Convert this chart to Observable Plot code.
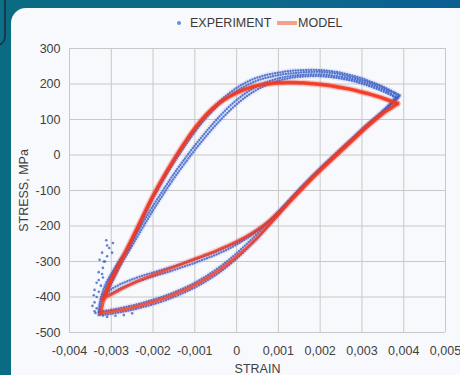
<!DOCTYPE html>
<html>
<head>
<meta charset="utf-8">
<script src="https://cdn.jsdelivr.net/npm/d3@7"></script>
<script src="https://cdn.jsdelivr.net/npm/@observablehq/plot@0.6"></script>
<style>
  html, body { margin: 0; padding: 0; }
  body { width: 460px; height: 375px; overflow: hidden; position: relative;
         background: linear-gradient(to right, #0a6b82 0%, #0b6a88 55%, #0c5f94 100%);
         font-family: "Liberation Sans", Arial, sans-serif; }
  #tab { position: absolute; left: -14px; top: -12px; width: 16px; height: 54px;
         border: 2px solid #17394a; border-radius: 9px; background: #0c7088; }
  #card { position: absolute; left: 11px; top: 8px; width: 470px; height: 385px;
          background: #f8f9fc; border-radius: 15px; }
  #chart { position: absolute; left: 0; top: 0; }
  .lg { position: absolute; font-size: 12.5px; color: #3a3a3a; line-height: 14px; top: 16px; }
  #lgDot { position: absolute; left: 177px; top: 21px; width: 4px; height: 4px; border-radius: 50%; background: #5e93d6; }
  #lgLine { position: absolute; left: 277px; top: 21px; width: 20px; height: 4px; background: #f3a08c; }
</style>
</head>
<body>
<div id="tab"></div>
<div id="card"></div>
<div id="chart"></div>
<div id="lgDot"></div><div class="lg" style="left:190px">EXPERIMENT</div>
<div id="lgLine"></div><div class="lg" style="left:298px">MODEL</div>
<script>
// Axis ticks
const strainTicks = [-0.004, -0.003, -0.002, -0.001, 0, 0.001, 0.002, 0.003, 0.004, 0.005];
const stressTicks = [-500, -400, -300, -200, -100, 0, 100, 200, 300];

// EXPERIMENT – cycle 1 (outer), loading branch [strain, stress MPa]
const exp1Up = [[-0.0033,-450],[-0.00328,-420],[-0.00322,-390],[-0.00312,-360],[-0.003,-335],[-0.0029,-315],[-0.0028,-295],[-0.0026,-268],[-0.0024,-220],[-0.0022,-170],[-0.002,-122],[-0.0018,-80],[-0.0016,-40],[-0.0014,-3],[-0.0012,32],[-0.001,65],[-0.0008,95],[-0.0006,121],[-0.0004,144],[-0.0002,163],[0,180],[0.0002,194],[0.0004,205],[0.0006,214],[0.0008,220],[0.001,225],[0.0012,229],[0.0014,231],[0.0016,233],[0.0018,234],[0.002,234],[0.0022,232],[0.0024,229],[0.0026,224],[0.0028,218],[0.003,211],[0.0032,203],[0.0034,194],[0.0036,184],[0.0038,172],[0.00388,165]];
// EXPERIMENT – cycle 1, unloading branch
const exp1Down = [[0.00388,165],[0.0037,142],[0.0035,120],[0.0033,100],[0.0031,80],[0.0029,58],[0.0027,36],[0.0025,14],[0.0023,-8],[0.0021,-30],[0.0019,-53],[0.0017,-77],[0.0015,-102],[0.0013,-128],[0.0011,-155],[0.0009,-182],[0.0007,-208],[0.0005,-234],[0.0003,-258],[0.0001,-281],[-0.0001,-302],[-0.0003,-321],[-0.0005,-338],[-0.0007,-353],[-0.0009,-367],[-0.0011,-379],[-0.0013,-390],[-0.0015,-400],[-0.0017,-409],[-0.0019,-417],[-0.0021,-424],[-0.0023,-430],[-0.0025,-436],[-0.0027,-441],[-0.0029,-445],[-0.0031,-449],[-0.0033,-450]];
// EXPERIMENT – cycle 2 (inner), loading branch
const exp2Up = [[-0.0032,-400],[-0.0031,-380],[-0.003,-355],[-0.0029,-330],[-0.0028,-305],[-0.0026,-262],[-0.0024,-222],[-0.0022,-182],[-0.002,-143],[-0.0018,-106],[-0.0016,-70],[-0.0014,-36],[-0.0012,-4],[-0.001,27],[-0.0008,56],[-0.0006,84],[-0.0004,110],[-0.0002,134],[0,155],[0.0002,173],[0.0004,188],[0.0006,200],[0.0008,209],[0.001,216],[0.0012,221],[0.0014,224],[0.0016,226],[0.0018,227],[0.002,227],[0.0022,225],[0.0024,222],[0.0026,218],[0.0028,213],[0.003,206],[0.0032,198],[0.0034,189],[0.0036,179],[0.00385,160]];
// EXPERIMENT – cycle 2, unloading branch
const exp2Down = [[0.00385,160],[0.0036,132],[0.0034,110],[0.0032,90],[0.003,69],[0.0028,47],[0.0026,25],[0.0024,3],[0.0022,-19],[0.002,-41],[0.0018,-64],[0.0016,-88],[0.0014,-113],[0.0012,-138],[0.001,-162],[0.0008,-184],[0.0006,-203],[0.0004,-219],[0.0002,-233],[0,-246],[-0.0002,-257],[-0.0004,-267],[-0.0006,-277],[-0.0008,-286],[-0.001,-294],[-0.0012,-302],[-0.0014,-310],[-0.0016,-317],[-0.0018,-324],[-0.002,-331],[-0.0022,-338],[-0.0024,-346],[-0.0026,-355],[-0.0028,-365],[-0.003,-378],[-0.0032,-400]];
// EXPERIMENT – cycle 3 (outer edge of the bands)
const exp3Up = [[-0.00328,-440],[-0.0032,-400],[-0.0031,-365],[-0.003,-340],[-0.0028,-300],[-0.0026,-258],[-0.0024,-212],[-0.0022,-164],[-0.002,-116],[-0.0018,-73],[-0.0016,-33],[-0.0014,5],[-0.0012,40],[-0.001,73],[-0.0008,103],[-0.0006,129],[-0.0004,152],[-0.0002,172],[0,189],[0.0002,203],[0.0004,214],[0.0006,222],[0.0008,228],[0.001,232],[0.0012,236],[0.0014,238],[0.0016,239],[0.0018,240],[0.002,239],[0.0022,237],[0.0024,234],[0.0026,229],[0.0028,223],[0.003,216],[0.0032,207],[0.0034,198],[0.0036,187],[0.0038,175],[0.0039,168]];
const exp3Down = [[0.0039,168],[0.0037,145],[0.0035,124],[0.0033,104],[0.0031,84],[0.0029,62],[0.0027,40],[0.0025,18],[0.0023,-4],[0.0021,-26],[0.0019,-49],[0.0017,-72],[0.0015,-96],[0.0013,-121],[0.0011,-147],[0.0009,-172],[0.0007,-197],[0.0005,-221],[0.0003,-244],[0.0001,-266],[-0.0001,-287],[-0.0003,-306],[-0.0005,-323],[-0.0007,-339],[-0.0009,-353],[-0.0011,-366],[-0.0013,-377],[-0.0015,-387],[-0.0017,-396],[-0.0019,-404],[-0.0021,-411],[-0.0023,-418],[-0.0025,-424],[-0.0027,-429],[-0.0029,-434],[-0.0031,-438],[-0.00328,-440]];
// EXPERIMENT – cycle 4 (inner edge of the bands)
const exp4Up = [[-0.00318,-395],[-0.0031,-385],[-0.003,-362],[-0.0029,-340],[-0.0028,-316],[-0.0026,-275],[-0.0024,-235],[-0.0022,-195],[-0.002,-156],[-0.0018,-119],[-0.0016,-83],[-0.0014,-49],[-0.0012,-17],[-0.001,14],[-0.0008,43],[-0.0006,71],[-0.0004,97],[-0.0002,121],[0,143],[0.0002,162],[0.0004,178],[0.0006,191],[0.0008,201],[0.001,209],[0.0012,215],[0.0014,219],[0.0016,221],[0.0018,222],[0.002,222],[0.0022,220],[0.0024,217],[0.0026,213],[0.0028,208],[0.003,201],[0.0032,193],[0.0034,184],[0.0036,174],[0.0038,162]];
const exp4Down = [[0.0038,162],[0.0036,136],[0.0034,113],[0.0032,92],[0.003,71],[0.0028,49],[0.0026,27],[0.0024,5],[0.0022,-17],[0.002,-39],[0.0018,-62],[0.0016,-86],[0.0014,-111],[0.0012,-136],[0.001,-160],[0.0008,-183],[0.0006,-204],[0.0004,-222],[0.0002,-238],[0,-252],[-0.0002,-265],[-0.0004,-276],[-0.0006,-286],[-0.0008,-295],[-0.001,-304],[-0.0012,-312],[-0.0014,-320],[-0.0016,-328],[-0.0018,-335],[-0.002,-342],[-0.0022,-350],[-0.0024,-358],[-0.0026,-367],[-0.0028,-377],[-0.003,-390],[-0.00318,-395]];
// EXPERIMENT – scattered readings near the compression tip
const expScatter = [[-0.0031,-285],[-0.00315,-300],[-0.0032,-318],[-0.00322,-335],[-0.0033,-352],[-0.00325,-368],[-0.0033,-385],[-0.00335,-400],[-0.0034,-415],[-0.00335,-432],[-0.0033,-442],[-0.00305,-262],[-0.00298,-275],[-0.0032,-345],[-0.00318,-300],[-0.0031,-255],[-0.00322,-275],[-0.0034,-380],[-0.00345,-425],[-0.0033,-330],[-0.00328,-295],[-0.00335,-360],[-0.0034,-440],[-0.0032,-452],[-0.0031,-456],[-0.0029,-453],[-0.0027,-451],[-0.0025,-446],[-0.00338,-445],[-0.00342,-395],[-0.00312,-240],[-0.00296,-248]];

// MODEL – loop 1
const model1Up = [[-0.00325,-445],[-0.0032,-418],[-0.0031,-382],[-0.003,-352],[-0.0028,-305],[-0.0026,-258],[-0.0024,-210],[-0.0022,-161],[-0.002,-114],[-0.0018,-71],[-0.0016,-31],[-0.0014,7],[-0.0012,43],[-0.001,76],[-0.0008,105],[-0.0006,129],[-0.0004,149],[-0.0002,164],[0,176],[0.0002,186],[0.0004,194],[0.0006,199],[0.0008,202],[0.001,204],[0.0012,205],[0.0014,205],[0.0016,204],[0.0018,202],[0.002,200],[0.0022,197],[0.0024,193],[0.0026,189],[0.0028,184],[0.003,178],[0.0032,172],[0.0034,165],[0.0036,157],[0.00385,145]];
const model1Down = [[0.00385,145],[0.0037,132],[0.0035,118],[0.0033,100],[0.0031,80],[0.0029,58],[0.0027,37],[0.0025,15],[0.0023,-7],[0.0021,-29],[0.0019,-52],[0.0017,-76],[0.0015,-101],[0.0013,-127],[0.0011,-154],[0.0009,-181],[0.0007,-207],[0.0005,-232],[0.0003,-255],[0.0001,-276],[-0.0001,-296],[-0.0003,-314],[-0.0005,-331],[-0.0007,-346],[-0.0009,-360],[-0.0011,-372],[-0.0013,-383],[-0.0015,-393],[-0.0017,-402],[-0.0019,-410],[-0.0021,-417],[-0.0023,-424],[-0.0025,-430],[-0.0027,-435],[-0.0029,-439],[-0.0031,-443],[-0.00325,-445]];
// MODEL – loop 2
const model2Up = [[-0.0032,-405],[-0.0031,-380],[-0.003,-352],[-0.0028,-307],[-0.0026,-260],[-0.0024,-212],[-0.0022,-163],[-0.002,-116],[-0.0018,-73],[-0.0016,-33],[-0.0014,5],[-0.0012,41],[-0.001,74],[-0.0008,103],[-0.0006,127],[-0.0004,147],[-0.0002,162],[0,174],[0.0002,184],[0.0004,192],[0.0006,197],[0.0008,200],[0.001,202],[0.0012,203],[0.0014,203],[0.0016,202],[0.0018,200],[0.002,198],[0.0022,195],[0.0024,191],[0.0026,187],[0.0028,182],[0.003,176],[0.0032,170],[0.0034,163],[0.0036,155],[0.00385,145]];
const model2Down = [[0.00385,145],[0.0036,125],[0.0034,106],[0.0032,86],[0.003,65],[0.0028,43],[0.0026,21],[0.0024,-1],[0.0022,-23],[0.002,-45],[0.0018,-68],[0.0016,-92],[0.0014,-116],[0.0012,-140],[0.001,-163],[0.0008,-184],[0.0006,-202],[0.0004,-218],[0.0002,-232],[0,-244],[-0.0002,-255],[-0.0004,-265],[-0.0006,-275],[-0.0008,-284],[-0.001,-293],[-0.0012,-302],[-0.0014,-311],[-0.0016,-320],[-0.0018,-329],[-0.002,-338],[-0.0022,-347],[-0.0024,-357],[-0.0026,-368],[-0.0028,-380],[-0.003,-393],[-0.0032,-405]];

function rows(list) {
  const out = [];
  list.forEach(([name, arr]) => arr.forEach(([strain, stress]) => out.push({seg: name, strain, stress})));
  return out;
}
const expRows = rows([["e1u", exp1Up], ["e1d", exp1Down], ["e2u", exp2Up], ["e2d", exp2Down],
                      ["e3u", exp3Up], ["e3d", exp3Down], ["e4u", exp4Up], ["e4d", exp4Down]]);
const scatterRows = rows([["s", expScatter]]);
const modelRows = rows([["m1u", model1Up], ["m1d", model1Down], ["m2u", model2Up], ["m2d", model2Down]]);

const fmtX = d => d === 0 ? "0" : d.toFixed(3).replace(".", ",");
const fmtY = d => String(d);

const BLUE = "#3d61c8";
const RED = "#f03a24";

const chart = Plot.plot({
  width: 460, height: 375,
  marginLeft: 69, marginRight: 15, marginTop: 48, marginBottom: 43,
  style: {background: "transparent", fontFamily: "'Liberation Sans', Arial, sans-serif", fontSize: "12.5px", color: "#3f3f3f"},
  x: {domain: [-0.004, 0.005]},
  y: {domain: [-500, 300]},
  marks: [
    Plot.gridX(strainTicks, {stroke: "#c8c8c8", strokeOpacity: 1, strokeWidth: 1}),
    Plot.gridY(stressTicks, {stroke: "#c8c8c8", strokeOpacity: 1, strokeWidth: 1}),
    Plot.axisX(strainTicks, {tickSize: 0, tickPadding: 14, tickFormat: fmtX, label: "STRAIN", labelAnchor: "center", labelArrow: "none", labelOffset: 40}),
    Plot.axisY(stressTicks, {tickSize: 0, tickPadding: 9, tickFormat: fmtY, label: "STRESS, MPa", labelAnchor: "center", labelArrow: "none", labelOffset: 50}),
    // experiment: soft halo + dotted texture
    Plot.line(expRows, {x: "strain", y: "stress", z: "seg", curve: "catmull-rom", stroke: "#6f8fdc", strokeWidth: 5, strokeOpacity: 0.12}),
    Plot.line(expRows, {x: "strain", y: "stress", z: "seg", curve: "catmull-rom", stroke: BLUE, strokeWidth: 2.3, strokeDasharray: "0.1 2.5", strokeLinecap: "round", strokeOpacity: 0.85}),
    Plot.dot(scatterRows, {x: "strain", y: "stress", r: 1.3, fill: BLUE, fillOpacity: 0.8}),
    // model
    Plot.line(modelRows, {x: "strain", y: "stress", z: "seg", curve: "catmull-rom", stroke: RED, strokeWidth: 6, strokeOpacity: 0.16}),
    Plot.line(modelRows, {x: "strain", y: "stress", z: "seg", curve: "catmull-rom", stroke: RED, strokeWidth: 3, strokeOpacity: 0.8})
  ]
});
document.getElementById("chart").appendChild(chart);
</script>
</body>
</html>
